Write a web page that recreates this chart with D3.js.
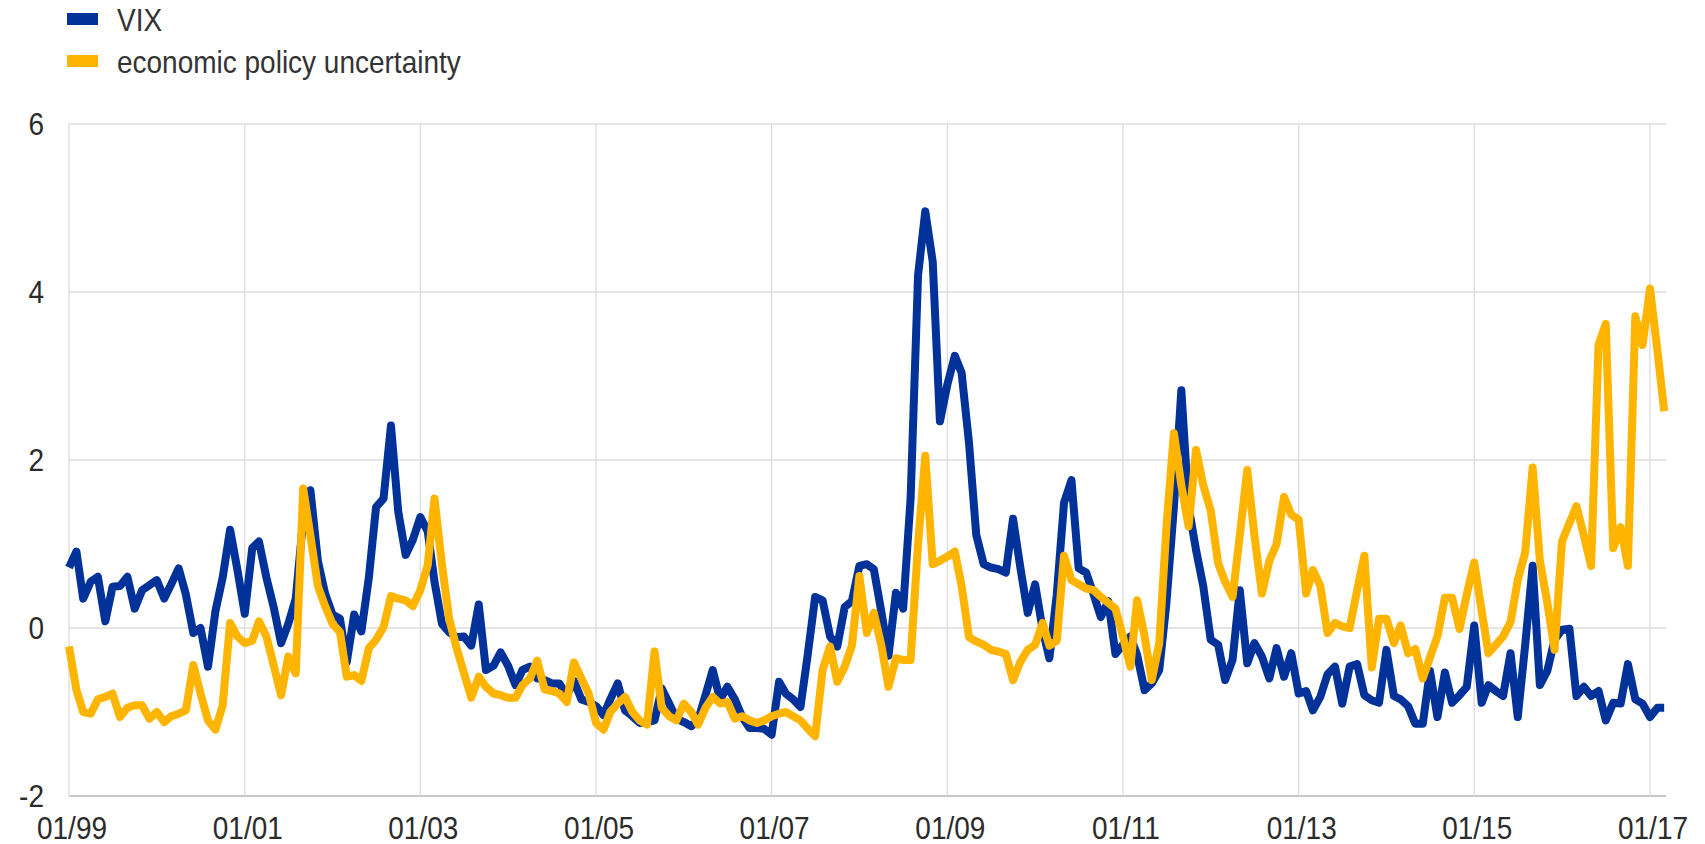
<!DOCTYPE html>
<html>
<head>
<meta charset="utf-8">
<script src="https://cdn.jsdelivr.net/npm/d3@7"></script>
<style>
  html, body { margin: 0; padding: 0; background: #fff; }
  svg { display: block; font-family: "Liberation Sans", Arial, sans-serif; }
</style>
</head>
<body>
<svg id="chart" width="1705" height="844"></svg>
<script>
// ---- data (monthly, starting January 1999) ----
const startMonth = "01/99";
const seriesNames = ["VIX", "economic policy uncertainty"];
const seriesColors = ["#003299", "#ffb400"];
const xTickLabels = ["01/99","01/01","01/03","01/05","01/07","01/09","01/11","01/13","01/15","01/17"];
const yTicks = [-2, 0, 2, 4, 6];

const vix = [
  0.72, 0.91, 0.35, 0.55, 0.61, 0.08, 0.49, 0.50, 0.61, 0.23, 0.45, 0.51,
  0.57, 0.35, 0.52, 0.71, 0.40, -0.06, 0.00, -0.46, 0.20, 0.60, 1.17, 0.70,
  0.17, 0.95, 1.03, 0.60, 0.25, -0.18, 0.05, 0.35, 1.30, 1.64, 0.80, 0.41,
  0.16, 0.11, -0.41, 0.16, -0.04, 0.60, 1.44, 1.54, 2.41, 1.39, 0.87, 1.05,
  1.32, 1.15, 0.55, 0.05, -0.05, -0.11, -0.10, -0.21, 0.28, -0.50, -0.45, -0.29,
  -0.45, -0.68, -0.50, -0.46, -0.60, -0.62, -0.66, -0.66, -0.80, -0.63, -0.85, -0.88,
  -0.93, -1.04, -0.85, -0.66, -0.98, -1.05, -1.13, -1.12, -1.10, -0.72, -0.90, -1.08,
  -1.12, -1.17, -1.10, -0.80, -0.50, -0.85, -0.70, -0.85, -1.06, -1.19, -1.19, -1.20,
  -1.27, -0.64, -0.78, -0.85, -0.94, -0.30, 0.37, 0.33, -0.10, -0.22, 0.25, 0.32,
  0.74, 0.76, 0.70, 0.20, -0.33, 0.42, 0.23, 1.54, 4.20, 4.96, 4.36, 2.46,
  2.90, 3.24, 3.04, 2.20, 1.11, 0.76, 0.72, 0.70, 0.66, 1.30, 0.71, 0.18,
  0.52, -0.02, -0.36, 0.40, 1.49, 1.76, 0.71, 0.66, 0.40, 0.13, 0.32, -0.31,
  -0.20, -0.10, -0.32, -0.74, -0.66, -0.50, 0.30, 1.44, 2.83, 1.45, 0.93, 0.50,
  -0.14, -0.20, -0.62, -0.38, 0.45, -0.42, -0.18, -0.34, -0.60, -0.24, -0.58, -0.30,
  -0.78, -0.75, -0.98, -0.82, -0.55, -0.46, -0.90, -0.46, -0.43, -0.80, -0.86, -0.89,
  -0.26, -0.81, -0.85, -0.93, -1.14, -1.14, -0.51, -1.06, -0.53, -0.89, -0.80, -0.70,
  0.03, -0.89, -0.68, -0.75, -0.81, -0.30, -1.06, -0.20, 0.74, -0.68, -0.51, -0.14,
  -0.02, -0.01, -0.81, -0.70, -0.81, -0.75, -1.10, -0.89, -0.90, -0.43, -0.85, -0.90,
  -1.06, -0.95, -0.95
];

const epu = [
  -0.22, -0.74, -1.00, -1.02, -0.85, -0.82, -0.78, -1.06, -0.95, -0.92, -0.92, -1.08,
  -1.00, -1.12, -1.05, -1.02, -0.98, -0.44, -0.78, -1.10, -1.21, -0.92, 0.06, -0.10,
  -0.18, -0.15, 0.08, -0.10, -0.44, -0.80, -0.34, -0.54, 1.66, 1.10, 0.50, 0.26,
  0.05, -0.05, -0.58, -0.56, -0.63, -0.24, -0.14, 0.01, 0.38, 0.35, 0.33, 0.26,
  0.45, 0.75, 1.54, 0.75, 0.11, -0.24, -0.53, -0.83, -0.58, -0.70, -0.78, -0.80,
  -0.83, -0.83, -0.68, -0.60, -0.39, -0.73, -0.75, -0.78, -0.88, -0.41, -0.60, -0.78,
  -1.13, -1.21, -1.00, -0.90, -0.82, -1.00, -1.10, -1.15, -0.28, -0.95, -1.05, -1.10,
  -0.90, -1.00, -1.15, -0.95, -0.82, -0.90, -0.88, -1.08, -1.05, -1.10, -1.13, -1.10,
  -1.05, -1.02, -1.00, -1.05, -1.10, -1.20, -1.29, -0.50, -0.22, -0.64, -0.46, -0.21,
  0.62, -0.06, 0.18, -0.20, -0.70, -0.36, -0.38, -0.38, 1.00, 2.05, 0.76, 0.80,
  0.85, 0.91, 0.50, -0.11, -0.16, -0.20, -0.26, -0.28, -0.31, -0.62, -0.40, -0.26,
  -0.20, 0.06, -0.21, -0.15, 0.86, 0.57, 0.52, 0.47, 0.45, 0.37, 0.30, 0.23,
  -0.10, -0.46, 0.33, -0.10, -0.62, -0.18, 1.20, 2.32, 1.70, 1.21, 2.12, 1.70,
  1.40, 0.77, 0.55, 0.37, 1.10, 1.88, 1.10, 0.41, 0.80, 1.00, 1.56, 1.35,
  1.29, 0.41, 0.69, 0.50, -0.06, 0.06, 0.02, 0.00, 0.45, 0.86, -0.47, 0.11,
  0.11, -0.18, 0.03, -0.30, -0.25, -0.60, -0.35, -0.10, 0.36, 0.36, -0.01, 0.40,
  0.78, 0.20, -0.30, -0.20, -0.10, 0.07, 0.57, 0.90, 1.91, 0.80, 0.30, -0.26,
  1.03, 1.25, 1.45, 1.10, 0.74, 3.37, 3.62, 0.95, 1.20, 0.74, 3.71, 3.37,
  4.04, 3.30, 2.58
];

// ---- chart ----
const parseMonth = d3.timeParse("%m/%y");
const start = parseMonth(startMonth);
const dates = vix.map((_, i) => d3.timeMonth.offset(start, i));
const tickDates = xTickLabels.map(parseMonth);

const svg = d3.select("#chart");
const plotLeft = 69, plotRight = 1666, plotTop = 124, plotBottom = 796;
const textColor = "#2b2b2b";
const stretch = 1.15;   // reference text is slightly tall

const x = d3.scaleTime()
  .domain([tickDates[0], tickDates[tickDates.length - 1]])
  .range([plotLeft, 1650]);
const y = d3.scaleLinear().domain([-2, 6]).range([plotBottom, plotTop]);

// gridlines
const grid = svg.append("g");
grid.selectAll("line.h").data(yTicks).join("line")
  .attr("x1", plotLeft).attr("x2", plotRight)
  .attr("y1", d => y(d)).attr("y2", d => y(d))
  .attr("stroke", d => d === -2 ? "#c8c8c8" : "#dcdcdc")
  .attr("stroke-width", d => d === -2 ? 2 : 1.3);
grid.selectAll("line.v").data(tickDates).join("line")
  .attr("x1", d => x(d)).attr("x2", d => x(d))
  .attr("y1", plotTop).attr("y2", plotBottom)
  .attr("stroke", "#dcdcdc").attr("stroke-width", 1.3);

// x tick labels
svg.append("g").selectAll("g").data(tickDates).join("g")
  .attr("transform", d => `translate(${x(d) + 3},839) scale(1,${stretch})`)
  .append("text")
  .attr("text-anchor", "middle")
  .attr("font-size", 28).attr("fill", textColor)
  .text((d, i) => xTickLabels[i]);

// y tick labels
svg.append("g").selectAll("g").data(yTicks).join("g")
  .attr("transform", d => `translate(44,${y(d) + 11}) scale(1,${stretch})`)
  .append("text")
  .attr("text-anchor", "end")
  .attr("font-size", 28).attr("fill", textColor)
  .text(d => d);

// lines
const line = d3.line().x((d, i) => x(dates[i])).y(d => y(d)).curve(d3.curveLinear);
[vix, epu].forEach((s, k) => {
  svg.append("path").datum(s)
    .attr("d", line)
    .attr("fill", "none")
    .attr("stroke", seriesColors[k])
    .attr("stroke-width", 8)
    .attr("stroke-linejoin", "round")
    .attr("stroke-linecap", "butt");
});

// legend
const legend = svg.append("g");
seriesNames.forEach((name, k) => {
  const base = 31 + k * 42;
  legend.append("rect").attr("x", 67).attr("y", base - 18).attr("width", 31).attr("height", 12)
    .attr("fill", seriesColors[k]);
  legend.append("g").attr("transform", `translate(117,${base}) scale(1,${stretch})`)
    .append("text")
    .attr("font-size", 28).attr("fill", "#333").text(name);
});
</script>
</body>
</html>
